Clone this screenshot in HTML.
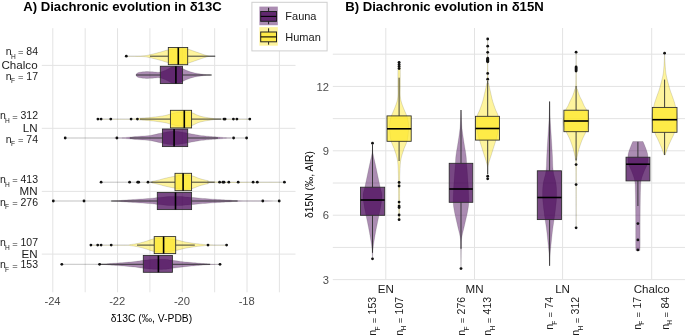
<!DOCTYPE html><html><head><meta charset="utf-8"><style>
html,body{margin:0;padding:0;background:#fff;width:685px;height:335px;overflow:hidden}
svg{display:block;font-family:"Liberation Sans",sans-serif;filter:blur(0.3px)}
.g{stroke:#e3e3e3;stroke-width:1}
.wh{stroke:#2b2b2b;stroke-width:0.9}
.bx{stroke:#2a2a2a;stroke-width:0.85}
.md{stroke:#000;stroke-width:1.6}
.pt{fill:#111}
.tk{fill:#4d4d4d;font-size:11.2px}
.lb{fill:#1a1a1a;font-size:11.6px}
.ttl{fill:#000;font-size:13.15px;font-weight:bold}
.at{fill:#000;font-size:10.3px}
.nl text{fill:#1a1a1a;font-size:10.5px}
</style></head><body>
<svg width="685" height="335" viewBox="0 0 685 335">
<rect width="685" height="335" fill="#fff"/>
<line class="g" x1="52.80" y1="28.20" x2="52.80" y2="292.30"/>
<line class="g" x1="85.17" y1="28.20" x2="85.17" y2="292.30"/>
<line class="g" x1="117.54" y1="28.20" x2="117.54" y2="292.30"/>
<line class="g" x1="149.91" y1="28.20" x2="149.91" y2="292.30"/>
<line class="g" x1="182.28" y1="28.20" x2="182.28" y2="292.30"/>
<line class="g" x1="214.65" y1="28.20" x2="214.65" y2="292.30"/>
<line class="g" x1="247.02" y1="28.20" x2="247.02" y2="292.30"/>
<line class="g" x1="279.39" y1="28.20" x2="279.39" y2="292.30"/>
<line class="g" x1="41.80" y1="65.40" x2="295.50" y2="65.40"/>
<line class="g" x1="41.80" y1="128.30" x2="295.50" y2="128.30"/>
<line class="g" x1="41.80" y1="191.40" x2="295.50" y2="191.40"/>
<line class="g" x1="41.80" y1="254.10" x2="295.50" y2="254.10"/>
<line class="g" x1="385.80" y1="28.00" x2="385.80" y2="279.40"/>
<line class="g" x1="474.50" y1="28.00" x2="474.50" y2="279.40"/>
<line class="g" x1="562.60" y1="28.00" x2="562.60" y2="279.40"/>
<line class="g" x1="651.70" y1="28.00" x2="651.70" y2="279.40"/>
<line class="g" x1="332.80" y1="54.20" x2="685.00" y2="54.20"/>
<line class="g" x1="332.80" y1="86.41" x2="685.00" y2="86.41"/>
<line class="g" x1="332.80" y1="118.61" x2="685.00" y2="118.61"/>
<line class="g" x1="332.80" y1="150.81" x2="685.00" y2="150.81"/>
<line class="g" x1="332.80" y1="183.02" x2="685.00" y2="183.02"/>
<line class="g" x1="332.80" y1="215.22" x2="685.00" y2="215.22"/>
<line class="g" x1="332.80" y1="247.43" x2="685.00" y2="247.43"/>
<line class="g" x1="332.80" y1="279.63" x2="685.00" y2="279.63"/>
<path d="M126.30,56.15 L128.23,56.12 L130.99,56.09 L134.21,56.04 L137.53,55.99 L140.58,55.91 L143.00,55.80 L144.69,55.68 L145.94,55.54 L146.92,55.38 L147.80,55.20 L148.77,54.97 L150.00,54.70 L151.52,54.36 L153.19,53.96 L154.94,53.53 L156.70,53.07 L158.41,52.62 L160.00,52.20 L161.45,51.79 L162.81,51.38 L164.12,50.98 L165.41,50.59 L166.69,50.22 L168.00,49.90 L169.36,49.61 L170.74,49.34 L172.12,49.11 L173.48,48.90 L174.78,48.73 L176.00,48.60 L177.12,48.52 L178.16,48.49 L179.14,48.49 L180.10,48.51 L181.04,48.56 L182.00,48.60 L182.91,48.62 L183.75,48.62 L184.58,48.63 L185.47,48.69 L186.49,48.84 L187.70,49.10 L189.15,49.51 L190.80,50.06 L192.58,50.68 L194.42,51.34 L196.25,52.00 L198.00,52.60 L199.72,53.18 L201.46,53.79 L203.19,54.40 L204.89,54.96 L206.50,55.44 L208.00,55.80 L209.45,56.03 L210.87,56.14 L212.22,56.18 L213.44,56.16 L214.45,56.14 L215.20,56.15 L215.20,56.25 L214.45,56.26 L213.44,56.24 L212.22,56.23 L210.87,56.26 L209.45,56.37 L208.00,56.60 L206.50,56.96 L204.89,57.44 L203.19,58.00 L201.46,58.61 L199.72,59.22 L198.00,59.80 L196.25,60.40 L194.42,61.06 L192.58,61.72 L190.80,62.34 L189.15,62.89 L187.70,63.30 L186.49,63.56 L185.47,63.71 L184.58,63.77 L183.75,63.78 L182.91,63.78 L182.00,63.80 L181.04,63.84 L180.10,63.89 L179.14,63.91 L178.16,63.91 L177.12,63.88 L176.00,63.80 L174.78,63.67 L173.48,63.50 L172.12,63.29 L170.74,63.06 L169.36,62.79 L168.00,62.50 L166.69,62.18 L165.41,61.81 L164.12,61.43 L162.81,61.02 L161.45,60.61 L160.00,60.20 L158.41,59.78 L156.70,59.33 L154.94,58.88 L153.19,58.44 L151.52,58.04 L150.00,57.70 L148.77,57.43 L147.80,57.20 L146.92,57.02 L145.94,56.86 L144.69,56.72 L143.00,56.60 L140.58,56.49 L137.53,56.41 L134.21,56.36 L130.99,56.31 L128.23,56.28 L126.30,56.25 Z" fill="rgba(253,231,37,0.450)" stroke="rgba(0,0,0,0.16)" stroke-width="0.8"/>
<line x1="150.00" y1="56.20" x2="168.30" y2="56.20" class="wh"/>
<line x1="187.70" y1="56.20" x2="215.20" y2="56.20" class="wh"/>
<rect x="168.30" y="47.50" width="19.40" height="17.20" fill="rgba(253,231,37,0.720)" class="bx"/>
<line x1="178.30" y1="47.50" x2="178.30" y2="64.70" class="md"/>
<circle cx="126.30" cy="56.20" r="1.4" class="pt"/>
<path d="M136.00,74.40 L136.14,74.24 L136.31,74.02 L136.53,73.76 L136.80,73.49 L137.12,73.23 L137.50,73.00 L137.94,72.80 L138.43,72.61 L138.97,72.44 L139.57,72.27 L140.25,72.13 L141.00,72.00 L141.84,71.89 L142.78,71.80 L143.78,71.72 L144.83,71.66 L145.91,71.62 L147.00,71.60 L148.12,71.61 L149.30,71.65 L150.50,71.71 L151.70,71.78 L152.88,71.85 L154.00,71.90 L155.06,71.97 L156.07,72.06 L157.06,72.15 L158.04,72.21 L159.01,72.20 L160.00,72.10 L161.00,71.89 L162.00,71.60 L163.00,71.25 L164.00,70.85 L165.00,70.43 L166.00,70.00 L167.00,69.52 L168.00,68.97 L169.00,68.39 L170.00,67.84 L171.00,67.36 L172.00,67.00 L173.02,66.76 L174.06,66.59 L175.10,66.50 L176.12,66.47 L177.09,66.51 L178.00,66.60 L178.81,66.76 L179.54,67.01 L180.23,67.31 L180.90,67.66 L181.62,68.03 L182.40,68.40 L183.26,68.80 L184.16,69.24 L185.10,69.70 L186.06,70.16 L187.03,70.60 L188.00,71.00 L189.00,71.36 L190.04,71.70 L191.10,72.02 L192.13,72.31 L193.11,72.57 L194.00,72.80 L194.76,72.98 L195.41,73.11 L196.00,73.21 L196.59,73.29 L197.24,73.38 L198.00,73.50 L198.87,73.64 L199.79,73.80 L200.78,73.96 L201.81,74.12 L202.88,74.27 L204.00,74.40 L205.26,74.52 L206.70,74.63 L208.18,74.73 L209.57,74.82 L210.75,74.89 L211.60,74.95 L211.60,75.05 L210.75,75.11 L209.57,75.18 L208.18,75.27 L206.70,75.37 L205.26,75.48 L204.00,75.60 L202.88,75.73 L201.81,75.88 L200.78,76.04 L199.79,76.20 L198.87,76.36 L198.00,76.50 L197.24,76.62 L196.59,76.71 L196.00,76.79 L195.41,76.89 L194.76,77.02 L194.00,77.20 L193.11,77.43 L192.13,77.69 L191.10,77.98 L190.04,78.30 L189.00,78.64 L188.00,79.00 L187.03,79.40 L186.06,79.84 L185.10,80.30 L184.16,80.76 L183.26,81.20 L182.40,81.60 L181.62,81.97 L180.90,82.34 L180.23,82.69 L179.54,82.99 L178.81,83.24 L178.00,83.40 L177.09,83.49 L176.12,83.53 L175.10,83.50 L174.06,83.41 L173.02,83.24 L172.00,83.00 L171.00,82.64 L170.00,82.16 L169.00,81.61 L168.00,81.03 L167.00,80.48 L166.00,80.00 L165.00,79.57 L164.00,79.15 L163.00,78.75 L162.00,78.40 L161.00,78.11 L160.00,77.90 L159.01,77.80 L158.04,77.79 L157.06,77.85 L156.07,77.94 L155.06,78.03 L154.00,78.10 L152.88,78.15 L151.70,78.22 L150.50,78.29 L149.30,78.35 L148.12,78.39 L147.00,78.40 L145.91,78.38 L144.83,78.34 L143.78,78.28 L142.78,78.20 L141.84,78.11 L141.00,78.00 L140.25,77.87 L139.57,77.73 L138.97,77.56 L138.43,77.39 L137.94,77.20 L137.50,77.00 L137.12,76.77 L136.80,76.51 L136.53,76.24 L136.31,75.98 L136.14,75.76 L136.00,75.60 Z" fill="rgba(68,1,84,0.450)" stroke="rgba(0,0,0,0.16)" stroke-width="0.8"/>
<line x1="136.00" y1="75.00" x2="160.30" y2="75.00" class="wh"/>
<line x1="182.50" y1="75.00" x2="211.60" y2="75.00" class="wh"/>
<rect x="160.30" y="66.30" width="22.20" height="17.30" fill="rgba(68,1,84,0.720)" class="bx"/>
<line x1="175.90" y1="66.30" x2="175.90" y2="83.60" class="md"/>
<path d="M97.90,119.05 L101.68,119.04 L107.15,119.03 L113.51,119.02 L119.97,119.01 L125.73,118.98 L130.00,118.95 L132.67,118.91 L134.34,118.85 L135.32,118.79 L135.89,118.73 L136.36,118.66 L137.00,118.60 L137.65,118.54 L138.04,118.48 L138.31,118.42 L138.63,118.36 L139.14,118.28 L140.00,118.20 L141.26,118.11 L142.81,118.01 L144.56,117.90 L146.41,117.78 L148.25,117.65 L150.00,117.50 L151.72,117.32 L153.52,117.12 L155.31,116.91 L157.04,116.69 L158.62,116.48 L160.00,116.30 L161.12,116.15 L162.02,116.03 L162.79,115.91 L163.49,115.80 L164.20,115.66 L165.00,115.50 L165.85,115.31 L166.69,115.09 L167.54,114.86 L168.42,114.62 L169.37,114.36 L170.40,114.10 L171.55,113.80 L172.79,113.47 L174.10,113.12 L175.43,112.80 L176.74,112.51 L178.00,112.30 L179.21,112.17 L180.39,112.09 L181.56,112.06 L182.72,112.06 L183.86,112.07 L185.00,112.10 L186.10,112.11 L187.16,112.10 L188.21,112.12 L189.28,112.19 L190.40,112.33 L191.60,112.60 L192.85,113.02 L194.13,113.59 L195.46,114.24 L196.87,114.92 L198.37,115.56 L200.00,116.10 L201.83,116.56 L203.84,116.99 L205.96,117.38 L208.09,117.73 L210.13,118.04 L212.00,118.30 L213.44,118.50 L214.49,118.64 L215.45,118.73 L216.64,118.79 L218.39,118.84 L221.00,118.90 L224.99,118.95 L230.20,118.99 L235.96,119.01 L241.60,119.03 L246.44,119.04 L249.80,119.05 L249.80,119.15 L246.44,119.16 L241.60,119.17 L235.96,119.19 L230.20,119.21 L224.99,119.25 L221.00,119.30 L218.39,119.36 L216.64,119.41 L215.45,119.47 L214.49,119.56 L213.44,119.70 L212.00,119.90 L210.13,120.16 L208.09,120.47 L205.96,120.82 L203.84,121.21 L201.83,121.64 L200.00,122.10 L198.37,122.64 L196.87,123.28 L195.46,123.96 L194.13,124.61 L192.85,125.18 L191.60,125.60 L190.40,125.87 L189.28,126.01 L188.21,126.08 L187.16,126.10 L186.10,126.09 L185.00,126.10 L183.86,126.13 L182.72,126.14 L181.56,126.14 L180.39,126.11 L179.21,126.03 L178.00,125.90 L176.74,125.69 L175.43,125.40 L174.10,125.07 L172.79,124.73 L171.55,124.40 L170.40,124.10 L169.37,123.84 L168.42,123.58 L167.54,123.34 L166.69,123.11 L165.85,122.89 L165.00,122.70 L164.20,122.54 L163.49,122.40 L162.79,122.29 L162.02,122.17 L161.12,122.05 L160.00,121.90 L158.62,121.72 L157.04,121.51 L155.31,121.29 L153.52,121.08 L151.72,120.88 L150.00,120.70 L148.25,120.55 L146.41,120.42 L144.56,120.30 L142.81,120.19 L141.26,120.09 L140.00,120.00 L139.14,119.92 L138.63,119.84 L138.31,119.78 L138.04,119.72 L137.65,119.66 L137.00,119.60 L136.36,119.54 L135.89,119.47 L135.32,119.41 L134.34,119.35 L132.67,119.29 L130.00,119.25 L125.73,119.22 L119.97,119.19 L113.51,119.18 L107.15,119.17 L101.68,119.16 L97.90,119.15 Z" fill="rgba(253,231,37,0.450)" stroke="rgba(0,0,0,0.16)" stroke-width="0.8"/>
<line x1="140.00" y1="119.10" x2="170.40" y2="119.10" class="wh"/>
<line x1="191.60" y1="119.10" x2="221.20" y2="119.10" class="wh"/>
<rect x="170.40" y="110.30" width="21.20" height="17.60" fill="rgba(253,231,37,0.720)" class="bx"/>
<line x1="184.30" y1="110.30" x2="184.30" y2="127.90" class="md"/>
<circle cx="97.90" cy="119.10" r="1.4" class="pt"/>
<circle cx="101.10" cy="119.10" r="1.4" class="pt"/>
<circle cx="110.80" cy="119.10" r="1.4" class="pt"/>
<circle cx="131.10" cy="119.10" r="1.4" class="pt"/>
<circle cx="137.40" cy="119.10" r="1.4" class="pt"/>
<circle cx="224.00" cy="119.10" r="1.4" class="pt"/>
<circle cx="225.10" cy="119.10" r="1.4" class="pt"/>
<circle cx="233.40" cy="119.10" r="1.4" class="pt"/>
<circle cx="236.90" cy="119.10" r="1.4" class="pt"/>
<circle cx="249.80" cy="119.10" r="1.4" class="pt"/>
<path d="M65.20,137.95 L70.48,137.95 L78.10,137.94 L86.98,137.94 L95.99,137.93 L104.03,137.92 L110.00,137.90 L113.72,137.88 L116.02,137.85 L117.36,137.82 L118.18,137.79 L118.91,137.75 L120.00,137.70 L121.33,137.65 L122.52,137.59 L123.62,137.53 L124.70,137.46 L125.81,137.39 L127.00,137.30 L128.19,137.21 L129.33,137.11 L130.50,137.00 L131.78,136.88 L133.25,136.75 L135.00,136.60 L137.12,136.45 L139.58,136.29 L142.22,136.12 L144.93,135.92 L147.57,135.69 L150.00,135.40 L152.27,135.03 L154.50,134.59 L156.66,134.11 L158.72,133.62 L160.64,133.17 L162.40,132.80 L163.94,132.49 L165.27,132.22 L166.48,131.99 L167.61,131.79 L168.77,131.63 L170.00,131.50 L171.29,131.41 L172.57,131.34 L173.87,131.31 L175.19,131.33 L176.56,131.39 L178.00,131.50 L179.49,131.68 L181.01,131.92 L182.58,132.21 L184.21,132.53 L185.91,132.87 L187.70,133.20 L189.63,133.55 L191.69,133.94 L193.83,134.34 L195.97,134.74 L198.05,135.10 L200.00,135.40 L201.82,135.64 L203.58,135.84 L205.27,136.00 L206.90,136.14 L208.48,136.27 L210.00,136.40 L211.45,136.52 L212.81,136.63 L214.12,136.72 L215.41,136.81 L216.69,136.90 L218.00,137.00 L219.36,137.10 L220.74,137.21 L222.12,137.32 L223.48,137.42 L224.78,137.52 L226.00,137.60 L227.02,137.67 L227.83,137.73 L228.59,137.78 L229.44,137.83 L230.53,137.87 L232.00,137.90 L234.10,137.92 L236.77,137.94 L239.68,137.94 L242.50,137.95 L244.91,137.95 L246.60,137.95 L246.60,138.05 L244.91,138.05 L242.50,138.05 L239.68,138.06 L236.77,138.06 L234.10,138.08 L232.00,138.10 L230.53,138.13 L229.44,138.17 L228.59,138.22 L227.83,138.27 L227.02,138.33 L226.00,138.40 L224.78,138.48 L223.48,138.58 L222.12,138.68 L220.74,138.79 L219.36,138.90 L218.00,139.00 L216.69,139.10 L215.41,139.19 L214.12,139.28 L212.81,139.37 L211.45,139.48 L210.00,139.60 L208.48,139.73 L206.90,139.86 L205.27,140.00 L203.58,140.16 L201.82,140.36 L200.00,140.60 L198.05,140.90 L195.97,141.26 L193.83,141.66 L191.69,142.06 L189.63,142.45 L187.70,142.80 L185.91,143.13 L184.21,143.47 L182.58,143.79 L181.01,144.08 L179.49,144.32 L178.00,144.50 L176.56,144.61 L175.19,144.67 L173.87,144.69 L172.57,144.66 L171.29,144.59 L170.00,144.50 L168.77,144.37 L167.61,144.21 L166.48,144.01 L165.27,143.78 L163.94,143.51 L162.40,143.20 L160.64,142.83 L158.72,142.38 L156.66,141.89 L154.50,141.41 L152.27,140.97 L150.00,140.60 L147.57,140.31 L144.93,140.08 L142.22,139.88 L139.58,139.71 L137.12,139.55 L135.00,139.40 L133.25,139.25 L131.78,139.12 L130.50,139.00 L129.33,138.89 L128.19,138.79 L127.00,138.70 L125.81,138.61 L124.70,138.54 L123.62,138.47 L122.52,138.41 L121.33,138.35 L120.00,138.30 L118.91,138.25 L118.18,138.21 L117.36,138.18 L116.02,138.15 L113.72,138.12 L110.00,138.10 L104.03,138.08 L95.99,138.07 L86.98,138.06 L78.10,138.06 L70.48,138.05 L65.20,138.05 Z" fill="rgba(68,1,84,0.450)" stroke="rgba(0,0,0,0.16)" stroke-width="0.8"/>
<line x1="130.00" y1="138.00" x2="162.40" y2="138.00" class="wh"/>
<line x1="187.70" y1="138.00" x2="217.90" y2="138.00" class="wh"/>
<rect x="162.40" y="129.00" width="25.30" height="17.60" fill="rgba(68,1,84,0.720)" class="bx"/>
<line x1="174.10" y1="129.00" x2="174.10" y2="146.60" class="md"/>
<circle cx="65.20" cy="138.00" r="1.4" class="pt"/>
<circle cx="116.90" cy="138.00" r="1.4" class="pt"/>
<circle cx="233.60" cy="138.00" r="1.4" class="pt"/>
<circle cx="246.60" cy="138.00" r="1.4" class="pt"/>
<path d="M101.10,182.15 L106.70,182.15 L114.85,182.16 L124.30,182.17 L133.81,182.17 L142.12,182.15 L148.00,182.10 L151.13,182.03 L152.44,181.93 L152.56,181.82 L152.11,181.69 L151.71,181.55 L152.00,181.40 L152.87,181.24 L153.81,181.06 L154.81,180.88 L155.85,180.67 L156.92,180.45 L158.00,180.20 L159.07,179.93 L160.15,179.63 L161.25,179.31 L162.41,178.97 L163.65,178.64 L165.00,178.30 L166.52,177.95 L168.19,177.59 L169.94,177.21 L171.70,176.85 L173.41,176.51 L175.00,176.20 L176.44,175.91 L177.79,175.63 L179.09,175.37 L180.36,175.15 L181.66,174.99 L183.00,174.90 L184.40,174.89 L185.83,174.93 L187.27,175.03 L188.73,175.19 L190.17,175.42 L191.60,175.70 L193.02,176.08 L194.43,176.57 L195.84,177.12 L197.24,177.69 L198.63,178.23 L200.00,178.70 L201.37,179.10 L202.74,179.47 L204.11,179.82 L205.44,180.14 L206.75,180.43 L208.00,180.70 L208.46,180.94 L208.00,181.16 L207.49,181.35 L207.85,181.52 L209.95,181.67 L214.70,181.80 L223.48,181.91 L235.85,181.99 L249.97,182.04 L264.00,182.09 L276.09,182.12 L284.40,182.15 L284.40,182.25 L276.09,182.28 L264.00,182.31 L249.97,182.36 L235.85,182.41 L223.48,182.49 L214.70,182.60 L209.95,182.73 L207.85,182.88 L207.49,183.05 L208.00,183.24 L208.46,183.46 L208.00,183.70 L206.75,183.97 L205.44,184.26 L204.11,184.58 L202.74,184.93 L201.37,185.30 L200.00,185.70 L198.63,186.17 L197.24,186.71 L195.84,187.27 L194.43,187.83 L193.02,188.32 L191.60,188.70 L190.17,188.98 L188.73,189.21 L187.27,189.37 L185.83,189.47 L184.40,189.51 L183.00,189.50 L181.66,189.41 L180.36,189.25 L179.09,189.03 L177.79,188.77 L176.44,188.49 L175.00,188.20 L173.41,187.89 L171.70,187.55 L169.94,187.19 L168.19,186.81 L166.52,186.45 L165.00,186.10 L163.65,185.76 L162.41,185.43 L161.25,185.09 L160.15,184.77 L159.07,184.47 L158.00,184.20 L156.92,183.95 L155.85,183.73 L154.81,183.52 L153.81,183.34 L152.87,183.16 L152.00,183.00 L151.71,182.85 L152.11,182.71 L152.56,182.58 L152.44,182.47 L151.13,182.37 L148.00,182.30 L142.12,182.25 L133.81,182.23 L124.30,182.23 L114.85,182.24 L106.70,182.25 L101.10,182.25 Z" fill="rgba(253,231,37,0.450)" stroke="rgba(0,0,0,0.16)" stroke-width="0.8"/>
<line x1="150.40" y1="182.20" x2="175.00" y2="182.20" class="wh"/>
<line x1="191.60" y1="182.20" x2="214.70" y2="182.20" class="wh"/>
<rect x="175.00" y="173.30" width="16.60" height="17.40" fill="rgba(253,231,37,0.720)" class="bx"/>
<line x1="183.10" y1="173.30" x2="183.10" y2="190.70" class="md"/>
<circle cx="101.10" cy="182.20" r="1.4" class="pt"/>
<circle cx="129.60" cy="182.20" r="1.4" class="pt"/>
<circle cx="137.70" cy="182.20" r="1.4" class="pt"/>
<circle cx="138.70" cy="182.20" r="1.4" class="pt"/>
<circle cx="148.00" cy="182.20" r="1.4" class="pt"/>
<circle cx="219.60" cy="182.20" r="1.4" class="pt"/>
<circle cx="222.90" cy="182.20" r="1.4" class="pt"/>
<circle cx="224.00" cy="182.20" r="1.4" class="pt"/>
<circle cx="228.80" cy="182.20" r="1.4" class="pt"/>
<circle cx="238.20" cy="182.20" r="1.4" class="pt"/>
<circle cx="253.10" cy="182.20" r="1.4" class="pt"/>
<circle cx="257.30" cy="182.20" r="1.4" class="pt"/>
<circle cx="284.40" cy="182.20" r="1.4" class="pt"/>
<path d="M53.30,200.95 L60.11,200.95 L69.95,200.96 L81.40,200.97 L93.01,200.97 L103.36,200.95 L111.00,200.90 L115.64,200.82 L118.39,200.72 L119.86,200.60 L120.69,200.46 L121.53,200.33 L123.00,200.20 L124.97,200.07 L126.89,199.95 L128.81,199.82 L130.78,199.69 L132.83,199.55 L135.00,199.40 L137.42,199.24 L140.06,199.07 L142.79,198.90 L145.46,198.73 L147.91,198.56 L150.00,198.40 L151.60,198.26 L152.80,198.13 L153.79,198.01 L154.75,197.88 L155.86,197.75 L157.30,197.60 L159.14,197.42 L161.23,197.21 L163.48,197.00 L165.77,196.80 L167.98,196.62 L170.00,196.50 L171.80,196.43 L173.47,196.39 L175.07,196.38 L176.65,196.39 L178.27,196.44 L180.00,196.50 L181.82,196.59 L183.68,196.72 L185.59,196.88 L187.54,197.04 L189.54,197.22 L191.60,197.40 L193.71,197.58 L195.87,197.79 L198.09,197.99 L200.35,198.20 L202.65,198.41 L205.00,198.60 L207.47,198.78 L210.07,198.97 L212.71,199.14 L215.31,199.31 L217.77,199.46 L220.00,199.60 L221.98,199.71 L223.79,199.80 L225.46,199.88 L227.03,199.95 L228.53,200.02 L230.00,200.10 L231.01,200.19 L231.45,200.27 L231.83,200.36 L232.64,200.44 L234.39,200.53 L237.60,200.60 L243.05,200.67 L250.49,200.74 L258.87,200.81 L267.16,200.86 L274.28,200.91 L279.20,200.95 L279.20,201.05 L274.28,201.09 L267.16,201.14 L258.87,201.19 L250.49,201.26 L243.05,201.33 L237.60,201.40 L234.39,201.47 L232.64,201.56 L231.83,201.64 L231.45,201.73 L231.01,201.81 L230.00,201.90 L228.53,201.98 L227.03,202.05 L225.46,202.12 L223.79,202.20 L221.98,202.29 L220.00,202.40 L217.77,202.54 L215.31,202.69 L212.71,202.86 L210.07,203.03 L207.47,203.22 L205.00,203.40 L202.65,203.59 L200.35,203.80 L198.09,204.01 L195.87,204.21 L193.71,204.42 L191.60,204.60 L189.54,204.78 L187.54,204.96 L185.59,205.12 L183.68,205.28 L181.82,205.41 L180.00,205.50 L178.27,205.56 L176.65,205.61 L175.07,205.62 L173.47,205.61 L171.80,205.57 L170.00,205.50 L167.98,205.38 L165.77,205.20 L163.48,205.00 L161.23,204.79 L159.14,204.58 L157.30,204.40 L155.86,204.25 L154.75,204.12 L153.79,203.99 L152.80,203.87 L151.60,203.74 L150.00,203.60 L147.91,203.44 L145.46,203.27 L142.79,203.10 L140.06,202.93 L137.42,202.76 L135.00,202.60 L132.83,202.45 L130.78,202.31 L128.81,202.18 L126.89,202.05 L124.97,201.93 L123.00,201.80 L121.53,201.67 L120.69,201.54 L119.86,201.40 L118.39,201.28 L115.64,201.18 L111.00,201.10 L103.36,201.05 L93.01,201.03 L81.40,201.03 L69.95,201.04 L60.11,201.05 L53.30,201.05 Z" fill="rgba(68,1,84,0.450)" stroke="rgba(0,0,0,0.16)" stroke-width="0.8"/>
<line x1="111.20" y1="201.00" x2="157.30" y2="201.00" class="wh"/>
<line x1="191.60" y1="201.00" x2="237.60" y2="201.00" class="wh"/>
<rect x="157.30" y="192.40" width="34.30" height="17.20" fill="rgba(68,1,84,0.720)" class="bx"/>
<line x1="175.50" y1="192.40" x2="175.50" y2="209.60" class="md"/>
<circle cx="53.30" cy="201.00" r="1.4" class="pt"/>
<circle cx="84.00" cy="201.00" r="1.4" class="pt"/>
<circle cx="262.80" cy="201.00" r="1.4" class="pt"/>
<circle cx="279.20" cy="201.00" r="1.4" class="pt"/>
<path d="M90.90,245.05 L94.94,245.05 L100.80,245.05 L107.61,245.06 L114.50,245.05 L120.58,245.03 L125.00,245.00 L127.55,244.95 L128.88,244.88 L129.42,244.80 L129.57,244.71 L129.76,244.61 L130.40,244.50 L131.41,244.39 L132.46,244.27 L133.54,244.14 L134.65,244.00 L135.81,243.82 L137.00,243.60 L138.24,243.34 L139.52,243.05 L140.84,242.72 L142.19,242.37 L143.58,242.00 L145.00,241.60 L146.47,241.14 L147.99,240.61 L149.55,240.06 L151.12,239.53 L152.68,239.06 L154.20,238.70 L155.64,238.44 L157.02,238.25 L158.38,238.12 L159.79,238.05 L161.31,238.05 L163.00,238.10 L164.93,238.23 L167.07,238.45 L169.32,238.72 L171.57,239.04 L173.73,239.37 L175.70,239.70 L177.44,240.04 L179.03,240.41 L180.52,240.80 L181.97,241.19 L183.45,241.56 L185.00,241.90 L186.64,242.21 L188.34,242.50 L190.06,242.78 L191.76,243.04 L193.42,243.28 L195.00,243.50 L196.54,243.70 L198.06,243.87 L199.54,244.03 L200.94,244.16 L202.24,244.29 L203.40,244.40 L204.22,244.50 L204.70,244.58 L205.06,244.64 L205.57,244.70 L206.47,244.75 L208.00,244.80 L210.51,244.85 L213.85,244.90 L217.59,244.95 L221.26,244.99 L224.41,245.02 L226.60,245.05 L226.60,245.15 L224.41,245.18 L221.26,245.21 L217.59,245.25 L213.85,245.30 L210.51,245.35 L208.00,245.40 L206.47,245.45 L205.57,245.50 L205.06,245.56 L204.70,245.62 L204.22,245.70 L203.40,245.80 L202.24,245.91 L200.94,246.04 L199.54,246.17 L198.06,246.33 L196.54,246.50 L195.00,246.70 L193.42,246.92 L191.76,247.16 L190.06,247.42 L188.34,247.70 L186.64,247.99 L185.00,248.30 L183.45,248.64 L181.97,249.01 L180.52,249.40 L179.03,249.79 L177.44,250.16 L175.70,250.50 L173.73,250.83 L171.57,251.16 L169.32,251.47 L167.07,251.75 L164.93,251.97 L163.00,252.10 L161.31,252.15 L159.79,252.15 L158.38,252.08 L157.02,251.95 L155.64,251.76 L154.20,251.50 L152.68,251.14 L151.12,250.67 L149.55,250.14 L147.99,249.59 L146.47,249.06 L145.00,248.60 L143.58,248.20 L142.19,247.83 L140.84,247.47 L139.52,247.15 L138.24,246.86 L137.00,246.60 L135.81,246.38 L134.65,246.20 L133.54,246.06 L132.46,245.93 L131.41,245.81 L130.40,245.70 L129.76,245.59 L129.57,245.49 L129.42,245.40 L128.88,245.32 L127.55,245.25 L125.00,245.20 L120.58,245.17 L114.50,245.15 L107.61,245.14 L100.80,245.15 L94.94,245.15 L90.90,245.15 Z" fill="rgba(253,231,37,0.450)" stroke="rgba(0,0,0,0.16)" stroke-width="0.8"/>
<line x1="137.00" y1="245.10" x2="154.20" y2="245.10" class="wh"/>
<line x1="175.70" y1="245.10" x2="194.80" y2="245.10" class="wh"/>
<rect x="154.20" y="236.60" width="21.50" height="17.00" fill="rgba(253,231,37,0.720)" class="bx"/>
<line x1="163.60" y1="236.60" x2="163.60" y2="253.60" class="md"/>
<circle cx="90.90" cy="245.10" r="1.4" class="pt"/>
<circle cx="97.70" cy="245.10" r="1.4" class="pt"/>
<circle cx="101.10" cy="245.10" r="1.4" class="pt"/>
<circle cx="111.20" cy="245.10" r="1.4" class="pt"/>
<circle cx="208.00" cy="245.10" r="1.4" class="pt"/>
<circle cx="226.60" cy="245.10" r="1.4" class="pt"/>
<path d="M61.80,264.25 L66.28,264.25 L72.75,264.26 L80.27,264.27 L87.94,264.27 L94.82,264.25 L100.00,264.20 L103.28,264.12 L105.35,264.02 L106.64,263.90 L107.56,263.76 L108.54,263.63 L110.00,263.50 L111.87,263.38 L113.81,263.26 L115.81,263.13 L117.85,263.00 L119.92,262.86 L122.00,262.70 L124.16,262.52 L126.43,262.33 L128.73,262.12 L130.98,261.91 L133.09,261.70 L135.00,261.50 L136.62,261.30 L137.99,261.09 L139.23,260.89 L140.46,260.69 L141.77,260.49 L143.30,260.30 L145.07,260.11 L147.01,259.91 L149.04,259.73 L151.10,259.55 L153.11,259.41 L155.00,259.30 L156.80,259.23 L158.56,259.19 L160.27,259.18 L161.92,259.19 L163.50,259.23 L165.00,259.30 L166.32,259.40 L167.47,259.54 L168.54,259.70 L169.64,259.89 L170.90,260.09 L172.40,260.30 L174.21,260.54 L176.24,260.81 L178.41,261.09 L180.65,261.38 L182.87,261.66 L185.00,261.90 L187.08,262.12 L189.19,262.32 L191.29,262.51 L193.32,262.68 L195.24,262.85 L197.00,263.00 L198.60,263.14 L200.07,263.28 L201.42,263.40 L202.69,263.51 L203.88,263.61 L205.00,263.70 L205.98,263.77 L206.77,263.83 L207.49,263.88 L208.23,263.92 L209.10,263.96 L210.20,264.00 L211.68,264.05 L213.49,264.10 L215.42,264.14 L217.29,264.19 L218.88,264.22 L220.00,264.25 L220.00,264.35 L218.88,264.38 L217.29,264.41 L215.42,264.46 L213.49,264.50 L211.68,264.55 L210.20,264.60 L209.10,264.64 L208.23,264.68 L207.49,264.72 L206.77,264.77 L205.98,264.83 L205.00,264.90 L203.88,264.99 L202.69,265.09 L201.42,265.20 L200.07,265.32 L198.60,265.46 L197.00,265.60 L195.24,265.75 L193.32,265.92 L191.29,266.09 L189.19,266.28 L187.08,266.48 L185.00,266.70 L182.87,266.94 L180.65,267.22 L178.41,267.51 L176.24,267.79 L174.21,268.06 L172.40,268.30 L170.90,268.51 L169.64,268.71 L168.54,268.90 L167.47,269.06 L166.32,269.20 L165.00,269.30 L163.50,269.37 L161.92,269.41 L160.27,269.43 L158.56,269.41 L156.80,269.37 L155.00,269.30 L153.11,269.19 L151.10,269.05 L149.04,268.88 L147.01,268.69 L145.07,268.49 L143.30,268.30 L141.77,268.11 L140.46,267.91 L139.23,267.71 L137.99,267.51 L136.62,267.30 L135.00,267.10 L133.09,266.90 L130.98,266.69 L128.73,266.48 L126.43,266.27 L124.16,266.08 L122.00,265.90 L119.92,265.74 L117.85,265.60 L115.81,265.47 L113.81,265.34 L111.87,265.22 L110.00,265.10 L108.54,264.97 L107.56,264.84 L106.64,264.70 L105.35,264.58 L103.28,264.48 L100.00,264.40 L94.82,264.35 L87.94,264.33 L80.27,264.33 L72.75,264.34 L66.28,264.35 L61.80,264.35 Z" fill="rgba(68,1,84,0.450)" stroke="rgba(0,0,0,0.16)" stroke-width="0.8"/>
<line x1="99.60" y1="264.30" x2="143.30" y2="264.30" class="wh"/>
<line x1="172.40" y1="264.30" x2="210.20" y2="264.30" class="wh"/>
<rect x="143.30" y="255.50" width="29.10" height="16.80" fill="rgba(68,1,84,0.720)" class="bx"/>
<line x1="158.40" y1="255.50" x2="158.40" y2="272.30" class="md"/>
<circle cx="61.80" cy="264.30" r="1.4" class="pt"/>
<circle cx="99.60" cy="264.30" r="1.4" class="pt"/>
<circle cx="220.00" cy="264.30" r="1.4" class="pt"/>
<path d="M372.45,143.20 L372.44,144.17 L372.44,145.49 L372.44,147.07 L372.40,148.82 L372.29,150.66 L372.10,152.50 L371.82,154.29 L371.48,156.07 L371.07,157.94 L370.61,160.00 L370.08,162.32 L369.50,165.00 L368.80,168.31 L367.98,172.21 L367.10,176.39 L366.23,180.51 L365.44,184.22 L364.80,187.20 L364.30,189.31 L363.88,190.79 L363.54,191.86 L363.29,192.77 L363.10,193.74 L363.00,195.00 L362.99,196.54 L363.09,198.16 L363.26,199.84 L363.49,201.56 L363.74,203.29 L364.00,205.00 L364.26,206.65 L364.56,208.25 L364.88,209.86 L365.22,211.53 L365.60,213.33 L366.00,215.30 L366.45,217.49 L366.94,219.86 L367.47,222.36 L368.00,224.91 L368.52,227.48 L369.00,230.00 L369.47,232.58 L369.94,235.27 L370.40,237.98 L370.83,240.58 L371.20,242.96 L371.50,245.00 L371.71,246.63 L371.85,247.93 L371.93,249.01 L371.99,249.98 L372.04,250.94 L372.10,252.00 L372.18,253.22 L372.25,254.53 L372.31,255.84 L372.37,257.04 L372.41,258.06 L372.45,258.80 L372.55,258.80 L372.59,258.06 L372.63,257.04 L372.69,255.84 L372.75,254.53 L372.82,253.22 L372.90,252.00 L372.96,250.94 L373.01,249.98 L373.07,249.01 L373.15,247.93 L373.29,246.63 L373.50,245.00 L373.80,242.96 L374.17,240.58 L374.60,237.98 L375.06,235.27 L375.53,232.58 L376.00,230.00 L376.48,227.48 L377.00,224.91 L377.53,222.36 L378.06,219.86 L378.55,217.49 L379.00,215.30 L379.40,213.33 L379.78,211.53 L380.12,209.86 L380.44,208.25 L380.74,206.65 L381.00,205.00 L381.26,203.29 L381.51,201.56 L381.74,199.84 L381.91,198.16 L382.01,196.54 L382.00,195.00 L381.90,193.74 L381.71,192.77 L381.46,191.86 L381.12,190.79 L380.70,189.31 L380.20,187.20 L379.56,184.22 L378.77,180.51 L377.90,176.39 L377.02,172.21 L376.20,168.31 L375.50,165.00 L374.92,162.32 L374.39,160.00 L373.93,157.94 L373.52,156.07 L373.18,154.29 L372.90,152.50 L372.71,150.66 L372.60,148.82 L372.56,147.07 L372.56,145.49 L372.56,144.17 L372.55,143.20 Z" fill="rgba(68,1,84,0.450)" stroke="rgba(0,0,0,0.16)" stroke-width="0.8"/>
<line x1="372.50" y1="144.50" x2="372.50" y2="187.20" class="wh"/>
<line x1="372.50" y1="215.30" x2="372.50" y2="252.80" class="wh"/>
<rect x="360.50" y="187.20" width="24.20" height="28.10" fill="rgba(68,1,84,0.720)" class="bx"/>
<line x1="360.50" y1="200.00" x2="384.70" y2="200.00" class="md"/>
<circle cx="372.50" cy="143.20" r="1.4" class="pt"/>
<circle cx="372.50" cy="258.80" r="1.4" class="pt"/>
<path d="M398.80,62.40 L398.70,62.88 L398.57,63.43 L398.41,64.14 L398.24,65.08 L398.10,66.34 L398.00,68.00 L397.94,70.22 L397.92,72.97 L397.91,76.04 L397.91,79.21 L397.91,82.27 L397.90,85.00 L397.90,87.44 L397.93,89.78 L397.96,92.00 L397.95,94.11 L397.87,96.11 L397.70,98.00 L397.42,99.73 L397.06,101.29 L396.62,102.74 L396.14,104.13 L395.63,105.53 L395.10,107.00 L394.51,108.54 L393.84,110.10 L393.14,111.68 L392.46,113.23 L391.83,114.75 L391.30,116.20 L390.87,117.58 L390.51,118.90 L390.20,120.18 L389.95,121.44 L389.75,122.70 L389.60,124.00 L389.51,125.31 L389.49,126.61 L389.51,127.92 L389.58,129.25 L389.68,130.61 L389.80,132.00 L389.93,133.44 L390.07,134.93 L390.24,136.44 L390.46,137.96 L390.74,139.49 L391.10,141.00 L391.56,142.48 L392.13,143.94 L392.75,145.41 L393.40,146.89 L394.03,148.41 L394.60,150.00 L395.14,151.65 L395.69,153.35 L396.22,155.09 L396.71,156.87 L397.15,158.67 L397.50,160.50 L397.76,162.38 L397.94,164.31 L398.07,166.28 L398.16,168.24 L398.23,170.16 L398.30,172.00 L398.37,173.66 L398.41,175.15 L398.44,176.59 L398.46,178.13 L398.48,179.89 L398.50,182.00 L398.52,184.52 L398.54,187.34 L398.55,190.39 L398.56,193.58 L398.58,196.81 L398.60,200.00 L398.63,203.41 L398.67,207.17 L398.71,210.97 L398.74,214.53 L398.78,217.54 L398.80,219.70 L399.40,219.70 L399.42,217.54 L399.46,214.53 L399.49,210.97 L399.53,207.17 L399.57,203.41 L399.60,200.00 L399.62,196.81 L399.64,193.58 L399.65,190.39 L399.66,187.34 L399.68,184.52 L399.70,182.00 L399.72,179.89 L399.74,178.13 L399.76,176.59 L399.79,175.15 L399.83,173.66 L399.90,172.00 L399.97,170.16 L400.04,168.24 L400.13,166.28 L400.26,164.31 L400.44,162.38 L400.70,160.50 L401.05,158.67 L401.49,156.87 L401.98,155.09 L402.51,153.35 L403.06,151.65 L403.60,150.00 L404.17,148.41 L404.80,146.89 L405.45,145.41 L406.07,143.94 L406.64,142.48 L407.10,141.00 L407.46,139.49 L407.74,137.96 L407.96,136.44 L408.13,134.93 L408.27,133.44 L408.40,132.00 L408.52,130.61 L408.62,129.25 L408.69,127.92 L408.71,126.61 L408.69,125.31 L408.60,124.00 L408.45,122.70 L408.25,121.44 L408.00,120.18 L407.69,118.90 L407.33,117.58 L406.90,116.20 L406.37,114.75 L405.74,113.23 L405.06,111.68 L404.36,110.10 L403.69,108.54 L403.10,107.00 L402.57,105.53 L402.06,104.13 L401.58,102.74 L401.14,101.29 L400.78,99.73 L400.50,98.00 L400.33,96.11 L400.25,94.11 L400.24,92.00 L400.27,89.78 L400.30,87.44 L400.30,85.00 L400.29,82.27 L400.29,79.21 L400.29,76.04 L400.28,72.97 L400.26,70.22 L400.20,68.00 L400.10,66.34 L399.96,65.08 L399.79,64.14 L399.63,63.43 L399.50,62.88 L399.40,62.40 Z" fill="rgba(253,231,37,0.450)" stroke="rgba(0,0,0,0.16)" stroke-width="0.8"/>
<line x1="399.10" y1="77.70" x2="399.10" y2="115.90" class="wh"/>
<line x1="399.10" y1="141.30" x2="399.10" y2="161.00" class="wh"/>
<rect x="387.00" y="115.90" width="24.20" height="25.40" fill="rgba(253,231,37,0.720)" class="bx"/>
<line x1="387.00" y1="128.80" x2="411.20" y2="128.80" class="md"/>
<circle cx="399.10" cy="62.30" r="1.4" class="pt"/>
<circle cx="399.10" cy="64.40" r="1.4" class="pt"/>
<circle cx="399.10" cy="66.50" r="1.4" class="pt"/>
<circle cx="399.10" cy="68.60" r="1.4" class="pt"/>
<circle cx="399.10" cy="182.40" r="1.4" class="pt"/>
<circle cx="399.10" cy="186.00" r="1.4" class="pt"/>
<circle cx="399.10" cy="202.10" r="1.4" class="pt"/>
<circle cx="399.10" cy="206.10" r="1.4" class="pt"/>
<circle cx="399.10" cy="207.50" r="1.4" class="pt"/>
<circle cx="399.10" cy="215.00" r="1.4" class="pt"/>
<circle cx="399.10" cy="219.70" r="1.4" class="pt"/>
<path d="M460.95,110.00 L460.88,111.76 L460.79,114.22 L460.69,117.12 L460.56,120.22 L460.39,123.26 L460.20,126.00 L459.97,128.44 L459.70,130.78 L459.40,133.06 L459.08,135.33 L458.75,137.63 L458.40,140.00 L458.01,142.52 L457.58,145.19 L457.12,147.88 L456.69,150.48 L456.30,152.89 L456.00,155.00 L455.80,156.68 L455.68,158.00 L455.61,159.12 L455.56,160.22 L455.50,161.46 L455.40,163.00 L455.26,164.87 L455.09,166.93 L454.92,169.12 L454.74,171.41 L454.57,173.72 L454.40,176.00 L454.24,178.30 L454.07,180.66 L453.91,183.05 L453.75,185.43 L453.61,187.76 L453.50,190.00 L453.40,192.17 L453.30,194.29 L453.21,196.36 L453.16,198.38 L453.15,200.33 L453.20,202.20 L453.31,203.94 L453.46,205.53 L453.65,207.05 L453.89,208.59 L454.17,210.21 L454.50,212.00 L454.89,213.98 L455.35,216.10 L455.85,218.30 L456.37,220.55 L456.90,222.80 L457.40,225.00 L457.91,227.19 L458.46,229.41 L459.01,231.64 L459.52,233.83 L459.96,235.96 L460.30,238.00 L460.51,239.82 L460.62,241.43 L460.67,242.97 L460.67,244.61 L460.67,246.50 L460.70,248.80 L460.75,251.81 L460.80,255.47 L460.85,259.38 L460.89,263.13 L460.92,266.34 L460.95,268.60 L461.05,268.60 L461.08,266.34 L461.11,263.13 L461.15,259.38 L461.20,255.47 L461.25,251.81 L461.30,248.80 L461.33,246.50 L461.33,244.61 L461.33,242.97 L461.38,241.43 L461.49,239.82 L461.70,238.00 L462.04,235.96 L462.48,233.83 L462.99,231.64 L463.54,229.41 L464.09,227.19 L464.60,225.00 L465.10,222.80 L465.63,220.55 L466.15,218.30 L466.65,216.10 L467.11,213.98 L467.50,212.00 L467.83,210.21 L468.11,208.59 L468.35,207.05 L468.54,205.53 L468.69,203.94 L468.80,202.20 L468.85,200.33 L468.84,198.38 L468.79,196.36 L468.70,194.29 L468.60,192.17 L468.50,190.00 L468.39,187.76 L468.25,185.43 L468.09,183.05 L467.93,180.66 L467.76,178.30 L467.60,176.00 L467.43,173.72 L467.26,171.41 L467.08,169.12 L466.91,166.93 L466.74,164.87 L466.60,163.00 L466.50,161.46 L466.44,160.22 L466.39,159.12 L466.32,158.00 L466.20,156.68 L466.00,155.00 L465.70,152.89 L465.31,150.48 L464.88,147.88 L464.42,145.19 L463.99,142.52 L463.60,140.00 L463.25,137.63 L462.92,135.33 L462.60,133.06 L462.30,130.78 L462.03,128.44 L461.80,126.00 L461.61,123.26 L461.44,120.22 L461.31,117.12 L461.21,114.22 L461.12,111.76 L461.05,110.00 Z" fill="rgba(68,1,84,0.450)" stroke="rgba(0,0,0,0.16)" stroke-width="0.8"/>
<line x1="461.00" y1="110.00" x2="461.00" y2="163.30" class="wh"/>
<line x1="461.00" y1="202.30" x2="461.00" y2="248.80" class="wh"/>
<rect x="449.20" y="163.30" width="23.60" height="39.00" fill="rgba(68,1,84,0.720)" class="bx"/>
<line x1="449.20" y1="189.00" x2="472.80" y2="189.00" class="md"/>
<circle cx="461.00" cy="268.60" r="1.4" class="pt"/>
<path d="M487.65,39.10 L487.61,43.98 L487.57,51.07 L487.51,59.30 L487.45,67.59 L487.38,74.85 L487.30,80.00 L487.23,82.76 L487.16,83.92 L487.09,84.06 L487.00,83.74 L486.87,83.53 L486.70,84.00 L486.47,85.09 L486.20,86.32 L485.90,87.67 L485.57,89.09 L485.24,90.55 L484.90,92.00 L484.57,93.48 L484.23,95.03 L483.88,96.61 L483.51,98.20 L483.12,99.77 L482.70,101.30 L482.24,102.82 L481.74,104.34 L481.22,105.86 L480.69,107.32 L480.18,108.71 L479.70,110.00 L479.23,111.12 L478.76,112.09 L478.29,112.98 L477.87,113.88 L477.50,114.86 L477.20,116.00 L476.98,117.34 L476.83,118.81 L476.73,120.38 L476.68,121.96 L476.67,123.52 L476.70,125.00 L476.77,126.40 L476.89,127.77 L477.06,129.11 L477.25,130.43 L477.47,131.72 L477.70,133.00 L477.93,134.18 L478.16,135.25 L478.41,136.30 L478.71,137.41 L479.06,138.69 L479.50,140.20 L480.04,142.01 L480.68,144.06 L481.38,146.26 L482.10,148.54 L482.82,150.81 L483.50,153.00 L484.18,155.16 L484.91,157.37 L485.63,159.57 L486.30,161.72 L486.87,163.75 L487.30,165.60 L487.56,167.28 L487.69,168.84 L487.70,170.29 L487.69,171.62 L487.65,172.86 L487.65,174.00 L487.67,175.06 L487.68,176.04 L487.67,176.93 L487.66,177.69 L487.65,178.32 L487.65,178.80 L487.75,178.80 L487.75,178.32 L487.74,177.69 L487.73,176.93 L487.72,176.04 L487.73,175.06 L487.75,174.00 L487.75,172.86 L487.71,171.62 L487.70,170.29 L487.71,168.84 L487.84,167.28 L488.10,165.60 L488.53,163.75 L489.10,161.72 L489.77,159.57 L490.49,157.37 L491.22,155.16 L491.90,153.00 L492.58,150.81 L493.30,148.54 L494.02,146.26 L494.72,144.06 L495.36,142.01 L495.90,140.20 L496.34,138.69 L496.69,137.41 L496.99,136.30 L497.24,135.25 L497.47,134.18 L497.70,133.00 L497.93,131.72 L498.15,130.43 L498.34,129.11 L498.51,127.77 L498.63,126.40 L498.70,125.00 L498.73,123.52 L498.72,121.96 L498.67,120.38 L498.57,118.81 L498.42,117.34 L498.20,116.00 L497.90,114.86 L497.53,113.88 L497.11,112.98 L496.64,112.09 L496.17,111.12 L495.70,110.00 L495.22,108.71 L494.71,107.32 L494.18,105.86 L493.66,104.34 L493.16,102.82 L492.70,101.30 L492.28,99.77 L491.89,98.20 L491.52,96.61 L491.17,95.03 L490.83,93.48 L490.50,92.00 L490.16,90.55 L489.83,89.09 L489.50,87.67 L489.20,86.32 L488.93,85.09 L488.70,84.00 L488.53,83.53 L488.40,83.74 L488.31,84.06 L488.24,83.92 L488.17,82.76 L488.10,80.00 L488.02,74.85 L487.95,67.59 L487.89,59.30 L487.83,51.07 L487.79,43.98 L487.75,39.10 Z" fill="rgba(253,231,37,0.450)" stroke="rgba(0,0,0,0.16)" stroke-width="0.8"/>
<line x1="487.70" y1="81.00" x2="487.70" y2="116.30" class="wh"/>
<line x1="487.70" y1="140.10" x2="487.70" y2="174.00" class="wh"/>
<rect x="475.50" y="116.30" width="24.00" height="23.80" fill="rgba(253,231,37,0.720)" class="bx"/>
<line x1="475.50" y1="128.50" x2="499.50" y2="128.50" class="md"/>
<circle cx="487.70" cy="39.00" r="1.4" class="pt"/>
<circle cx="487.70" cy="46.20" r="1.4" class="pt"/>
<circle cx="487.70" cy="52.30" r="1.4" class="pt"/>
<circle cx="487.70" cy="58.20" r="1.4" class="pt"/>
<circle cx="487.70" cy="59.30" r="1.4" class="pt"/>
<circle cx="487.70" cy="60.30" r="1.4" class="pt"/>
<circle cx="487.70" cy="61.20" r="1.4" class="pt"/>
<circle cx="487.70" cy="61.80" r="1.4" class="pt"/>
<circle cx="487.70" cy="73.40" r="1.4" class="pt"/>
<circle cx="487.70" cy="79.20" r="1.4" class="pt"/>
<circle cx="487.70" cy="176.20" r="1.4" class="pt"/>
<circle cx="487.70" cy="178.80" r="1.4" class="pt"/>
<path d="M549.55,101.50 L549.51,103.25 L549.46,105.66 L549.39,108.52 L549.31,111.62 L549.22,114.75 L549.10,117.70 L548.96,120.49 L548.79,123.29 L548.60,126.11 L548.40,128.99 L548.20,131.95 L548.00,135.00 L547.80,138.23 L547.59,141.62 L547.38,145.09 L547.17,148.54 L546.98,151.88 L546.80,155.00 L546.67,157.91 L546.58,160.67 L546.51,163.32 L546.41,165.88 L546.25,168.37 L546.00,170.80 L545.61,173.15 L545.10,175.40 L544.53,177.58 L543.97,179.71 L543.47,181.84 L543.10,184.00 L542.86,186.18 L542.69,188.35 L542.59,190.51 L542.55,192.67 L542.56,194.84 L542.60,197.00 L542.70,199.21 L542.87,201.46 L543.09,203.71 L543.33,205.92 L543.57,208.03 L543.80,210.00 L544.01,211.79 L544.22,213.42 L544.43,214.96 L544.65,216.47 L544.87,217.99 L545.10,219.60 L545.34,221.23 L545.58,222.84 L545.83,224.46 L546.09,226.16 L546.34,227.99 L546.60,230.00 L546.87,232.28 L547.15,234.81 L547.43,237.46 L547.71,240.13 L547.97,242.68 L548.20,245.00 L548.41,247.08 L548.60,249.01 L548.78,250.83 L548.94,252.57 L549.08,254.28 L549.20,256.00 L549.30,257.82 L549.38,259.72 L549.44,261.59 L549.48,263.30 L549.52,264.75 L549.55,265.80 L549.65,265.80 L549.68,264.75 L549.72,263.30 L549.76,261.59 L549.82,259.72 L549.90,257.82 L550.00,256.00 L550.12,254.28 L550.26,252.57 L550.42,250.83 L550.60,249.01 L550.79,247.08 L551.00,245.00 L551.23,242.68 L551.49,240.13 L551.77,237.46 L552.05,234.81 L552.33,232.28 L552.60,230.00 L552.86,227.99 L553.11,226.16 L553.37,224.46 L553.62,222.84 L553.86,221.23 L554.10,219.60 L554.33,217.99 L554.55,216.47 L554.77,214.96 L554.98,213.42 L555.19,211.79 L555.40,210.00 L555.63,208.03 L555.87,205.92 L556.11,203.71 L556.33,201.46 L556.50,199.21 L556.60,197.00 L556.64,194.84 L556.65,192.67 L556.61,190.51 L556.51,188.35 L556.34,186.18 L556.10,184.00 L555.73,181.84 L555.23,179.71 L554.67,177.58 L554.10,175.40 L553.59,173.15 L553.20,170.80 L552.95,168.37 L552.79,165.88 L552.69,163.32 L552.62,160.67 L552.53,157.91 L552.40,155.00 L552.22,151.88 L552.03,148.54 L551.82,145.09 L551.61,141.62 L551.40,138.23 L551.20,135.00 L551.00,131.95 L550.80,128.99 L550.60,126.11 L550.41,123.29 L550.24,120.49 L550.10,117.70 L549.98,114.75 L549.89,111.62 L549.81,108.52 L549.74,105.66 L549.69,103.25 L549.65,101.50 Z" fill="rgba(68,1,84,0.450)" stroke="rgba(0,0,0,0.16)" stroke-width="0.8"/>
<line x1="549.60" y1="101.50" x2="549.60" y2="170.80" class="wh"/>
<line x1="549.60" y1="219.60" x2="549.60" y2="265.80" class="wh"/>
<rect x="537.30" y="170.80" width="24.20" height="48.80" fill="rgba(68,1,84,0.720)" class="bx"/>
<line x1="537.30" y1="197.50" x2="561.50" y2="197.50" class="md"/>
<path d="M576.05,52.20 L576.02,55.96 L575.99,61.40 L575.94,67.73 L575.89,74.13 L575.81,79.83 L575.70,84.00 L575.57,86.49 L575.42,87.91 L575.25,88.61 L575.06,88.96 L574.84,89.30 L574.60,90.00 L574.32,91.01 L574.02,92.04 L573.69,93.06 L573.34,94.07 L572.97,95.06 L572.60,96.00 L572.21,96.89 L571.79,97.74 L571.36,98.56 L570.93,99.37 L570.51,100.18 L570.10,101.00 L569.72,101.84 L569.35,102.70 L568.99,103.56 L568.63,104.40 L568.27,105.22 L567.90,106.00 L567.52,106.69 L567.13,107.29 L566.74,107.87 L566.35,108.49 L565.97,109.21 L565.60,110.10 L565.23,111.21 L564.84,112.49 L564.46,113.87 L564.11,115.29 L563.81,116.69 L563.60,118.00 L563.46,119.22 L563.36,120.41 L563.32,121.58 L563.34,122.73 L563.43,123.87 L563.60,125.00 L563.85,126.10 L564.19,127.16 L564.60,128.21 L565.06,129.28 L565.57,130.40 L566.10,131.60 L566.69,132.88 L567.34,134.21 L568.04,135.59 L568.76,137.01 L569.45,138.49 L570.10,140.00 L570.72,141.58 L571.33,143.24 L571.93,144.94 L572.49,146.66 L573.02,148.36 L573.50,150.00 L573.93,151.64 L574.33,153.30 L574.69,154.94 L575.01,156.52 L575.28,157.99 L575.50,159.30 L575.65,159.74 L575.73,159.22 L575.76,158.58 L575.77,158.69 L575.77,160.41 L575.80,164.60 L575.85,172.51 L575.90,183.72 L575.94,196.53 L575.99,209.27 L576.02,220.25 L576.05,227.80 L576.15,227.80 L576.18,220.25 L576.21,209.27 L576.26,196.53 L576.30,183.72 L576.35,172.51 L576.40,164.60 L576.43,160.41 L576.43,158.69 L576.44,158.58 L576.47,159.22 L576.55,159.74 L576.70,159.30 L576.92,157.99 L577.19,156.52 L577.51,154.94 L577.87,153.30 L578.27,151.64 L578.70,150.00 L579.18,148.36 L579.71,146.66 L580.27,144.94 L580.87,143.24 L581.48,141.58 L582.10,140.00 L582.75,138.49 L583.44,137.01 L584.16,135.59 L584.86,134.21 L585.51,132.88 L586.10,131.60 L586.63,130.40 L587.14,129.28 L587.60,128.21 L588.01,127.16 L588.35,126.10 L588.60,125.00 L588.77,123.87 L588.86,122.73 L588.88,121.58 L588.84,120.41 L588.74,119.22 L588.60,118.00 L588.39,116.69 L588.09,115.29 L587.74,113.87 L587.36,112.49 L586.97,111.21 L586.60,110.10 L586.23,109.21 L585.85,108.49 L585.46,107.87 L585.07,107.29 L584.68,106.69 L584.30,106.00 L583.93,105.22 L583.57,104.40 L583.21,103.56 L582.85,102.70 L582.48,101.84 L582.10,101.00 L581.69,100.18 L581.27,99.37 L580.84,98.56 L580.41,97.74 L579.99,96.89 L579.60,96.00 L579.23,95.06 L578.86,94.07 L578.51,93.06 L578.18,92.04 L577.88,91.01 L577.60,90.00 L577.36,89.30 L577.14,88.96 L576.95,88.61 L576.78,87.91 L576.63,86.49 L576.50,84.00 L576.39,79.83 L576.31,74.13 L576.26,67.73 L576.21,61.40 L576.18,55.96 L576.15,52.20 Z" fill="rgba(253,231,37,0.450)" stroke="rgba(0,0,0,0.16)" stroke-width="0.8"/>
<line x1="576.10" y1="86.00" x2="576.10" y2="110.20" class="wh"/>
<line x1="576.10" y1="131.70" x2="576.10" y2="160.60" class="wh"/>
<rect x="563.90" y="110.20" width="24.40" height="21.50" fill="rgba(253,231,37,0.720)" class="bx"/>
<line x1="563.90" y1="121.00" x2="588.30" y2="121.00" class="md"/>
<circle cx="576.10" cy="52.20" r="1.4" class="pt"/>
<circle cx="576.10" cy="67.00" r="1.4" class="pt"/>
<circle cx="576.10" cy="68.00" r="1.4" class="pt"/>
<circle cx="576.10" cy="69.00" r="1.4" class="pt"/>
<circle cx="576.10" cy="70.00" r="1.4" class="pt"/>
<circle cx="576.10" cy="71.10" r="1.4" class="pt"/>
<circle cx="576.10" cy="164.60" r="1.4" class="pt"/>
<circle cx="576.10" cy="184.60" r="1.4" class="pt"/>
<circle cx="576.10" cy="227.80" r="1.4" class="pt"/>
<path d="M632.80,141.50 L632.60,141.97 L632.32,142.60 L631.99,143.35 L631.63,144.19 L631.26,145.09 L630.90,146.00 L630.52,146.98 L630.10,148.05 L629.67,149.18 L629.26,150.31 L628.90,151.40 L628.60,152.40 L628.38,153.27 L628.20,154.04 L628.07,154.77 L627.99,155.51 L627.93,156.30 L627.90,157.20 L627.88,158.20 L627.87,159.27 L627.89,160.40 L627.97,161.57 L628.13,162.77 L628.40,164.00 L628.82,165.25 L629.37,166.55 L630.01,167.87 L630.67,169.23 L631.32,170.61 L631.90,172.00 L632.43,173.42 L632.97,174.86 L633.48,176.32 L633.96,177.81 L634.37,179.30 L634.70,180.80 L634.93,182.19 L635.07,183.44 L635.16,184.70 L635.20,186.12 L635.24,187.84 L635.30,190.00 L635.37,192.71 L635.43,195.87 L635.48,199.32 L635.53,202.93 L635.57,206.54 L635.60,210.00 L635.63,213.39 L635.65,216.85 L635.67,220.31 L635.68,223.70 L635.69,226.96 L635.70,230.00 L635.70,232.90 L635.70,235.72 L635.69,238.40 L635.69,240.88 L635.69,243.10 L635.70,245.00 L635.72,246.54 L635.76,247.77 L635.80,248.74 L635.84,249.50 L635.88,250.10 L635.90,250.60 L639.90,250.60 L639.92,250.10 L639.96,249.50 L640.00,248.74 L640.04,247.77 L640.08,246.54 L640.10,245.00 L640.11,243.10 L640.11,240.88 L640.11,238.40 L640.10,235.72 L640.10,232.90 L640.10,230.00 L640.11,226.96 L640.12,223.70 L640.13,220.31 L640.15,216.85 L640.17,213.39 L640.20,210.00 L640.23,206.54 L640.27,202.93 L640.32,199.32 L640.37,195.87 L640.43,192.71 L640.50,190.00 L640.56,187.84 L640.60,186.12 L640.64,184.70 L640.73,183.44 L640.87,182.19 L641.10,180.80 L641.43,179.30 L641.84,177.81 L642.32,176.32 L642.83,174.86 L643.37,173.42 L643.90,172.00 L644.48,170.61 L645.13,169.23 L645.79,167.87 L646.43,166.55 L646.98,165.25 L647.40,164.00 L647.67,162.77 L647.83,161.57 L647.91,160.40 L647.93,159.27 L647.92,158.20 L647.90,157.20 L647.87,156.30 L647.81,155.51 L647.73,154.77 L647.60,154.04 L647.42,153.27 L647.20,152.40 L646.90,151.40 L646.54,150.31 L646.12,149.18 L645.70,148.05 L645.28,146.98 L644.90,146.00 L644.54,145.09 L644.17,144.19 L643.81,143.35 L643.48,142.60 L643.20,141.97 L643.00,141.50 Z" fill="rgba(68,1,84,0.450)" stroke="rgba(0,0,0,0.16)" stroke-width="0.8"/>
<line x1="637.90" y1="141.80" x2="637.90" y2="157.20" class="wh"/>
<line x1="637.90" y1="180.90" x2="637.90" y2="206.00" class="wh"/>
<rect x="626.00" y="157.20" width="23.90" height="23.70" fill="rgba(68,1,84,0.720)" class="bx"/>
<line x1="626.00" y1="164.20" x2="649.90" y2="164.20" class="md"/>
<circle cx="637.90" cy="223.60" r="1.4" class="pt"/>
<circle cx="637.90" cy="239.90" r="1.4" class="pt"/>
<circle cx="637.90" cy="249.90" r="1.4" class="pt"/>
<path d="M664.55,53.20 L664.53,53.93 L664.49,54.92 L664.46,56.10 L664.41,57.39 L664.36,58.72 L664.30,60.00 L664.23,61.28 L664.16,62.61 L664.08,63.99 L664.00,65.36 L663.90,66.71 L663.80,68.00 L663.70,69.22 L663.60,70.38 L663.49,71.51 L663.36,72.64 L663.20,73.80 L663.00,75.00 L662.75,76.26 L662.45,77.56 L662.12,78.89 L661.78,80.21 L661.44,81.53 L661.10,82.80 L660.78,84.04 L660.46,85.25 L660.14,86.45 L659.81,87.64 L659.46,88.82 L659.10,90.00 L658.71,91.19 L658.29,92.39 L657.85,93.58 L657.41,94.75 L656.99,95.89 L656.60,97.00 L656.23,98.08 L655.86,99.13 L655.51,100.16 L655.17,101.15 L654.87,102.10 L654.60,103.00 L654.38,103.77 L654.21,104.39 L654.07,104.97 L653.93,105.61 L653.78,106.42 L653.60,107.50 L653.33,108.86 L652.99,110.43 L652.63,112.16 L652.32,114.02 L652.12,115.98 L652.10,118.00 L652.27,120.20 L652.60,122.63 L653.04,125.16 L653.54,127.65 L654.08,129.97 L654.60,132.00 L655.13,133.68 L655.69,135.11 L656.29,136.38 L656.90,137.56 L657.51,138.74 L658.10,140.00 L658.69,141.34 L659.30,142.70 L659.91,144.06 L660.51,145.41 L661.07,146.72 L661.60,148.00 L662.10,149.31 L662.60,150.67 L663.07,152.00 L663.49,153.22 L663.84,154.25 L664.10,155.00 L665.10,155.00 L665.36,154.25 L665.71,153.22 L666.13,152.00 L666.60,150.67 L667.10,149.31 L667.60,148.00 L668.13,146.72 L668.69,145.41 L669.29,144.06 L669.90,142.70 L670.51,141.34 L671.10,140.00 L671.69,138.74 L672.30,137.56 L672.91,136.38 L673.51,135.11 L674.07,133.68 L674.60,132.00 L675.12,129.97 L675.66,127.65 L676.16,125.16 L676.60,122.63 L676.93,120.20 L677.10,118.00 L677.08,115.98 L676.88,114.02 L676.57,112.16 L676.21,110.43 L675.87,108.86 L675.60,107.50 L675.42,106.42 L675.27,105.61 L675.13,104.97 L674.99,104.39 L674.82,103.77 L674.60,103.00 L674.33,102.10 L674.03,101.15 L673.69,100.16 L673.34,99.13 L672.97,98.08 L672.60,97.00 L672.21,95.89 L671.79,94.75 L671.35,93.58 L670.91,92.39 L670.49,91.19 L670.10,90.00 L669.74,88.82 L669.39,87.64 L669.06,86.45 L668.74,85.25 L668.42,84.04 L668.10,82.80 L667.76,81.53 L667.42,80.21 L667.08,78.89 L666.75,77.56 L666.45,76.26 L666.20,75.00 L666.00,73.80 L665.84,72.64 L665.71,71.51 L665.60,70.38 L665.50,69.22 L665.40,68.00 L665.30,66.71 L665.20,65.36 L665.12,63.99 L665.04,62.61 L664.97,61.28 L664.90,60.00 L664.84,58.72 L664.79,57.39 L664.74,56.10 L664.71,54.92 L664.67,53.93 L664.65,53.20 Z" fill="rgba(253,231,37,0.450)" stroke="rgba(0,0,0,0.16)" stroke-width="0.8"/>
<line x1="664.60" y1="79.60" x2="664.60" y2="107.40" class="wh"/>
<line x1="664.60" y1="132.30" x2="664.60" y2="155.00" class="wh"/>
<rect x="652.30" y="107.40" width="24.70" height="24.90" fill="rgba(253,231,37,0.720)" class="bx"/>
<line x1="652.30" y1="119.70" x2="677.00" y2="119.70" class="md"/>
<circle cx="664.60" cy="53.20" r="1.4" class="pt"/>
<text class="ttl" x="23.2" y="10.8">A) Diachronic evolution in δ13C</text>
<text class="ttl" x="345.2" y="10.8">B) Diachronic evolution in δ15N</text>
<text class="tk" x="52.50" y="304.6" text-anchor="middle">-24</text>
<text class="tk" x="117.24" y="304.6" text-anchor="middle">-22</text>
<text class="tk" x="181.98" y="304.6" text-anchor="middle">-20</text>
<text class="tk" x="246.72" y="304.6" text-anchor="middle">-18</text>
<text class="at" x="151.5" y="322.2" text-anchor="middle">δ13C (‰, V-PDB)</text>
<g transform="translate(38.0,54.80)" class="nl"><text x="0" y="0" text-anchor="end">84</text><text x="-17.18" y="0.5" text-anchor="middle" style="font-size:9.4px">=</text><text x="-27.08" y="3.7" style="font-size:6.6px">H</text><text x="-32.18" y="0">n</text></g>
<text class="lb" x="37.6" y="68.5" text-anchor="end">Chalco</text>
<g transform="translate(38.0,79.60)" class="nl"><text x="0" y="0" text-anchor="end">17</text><text x="-17.18" y="0.5" text-anchor="middle" style="font-size:9.4px">=</text><text x="-27.08" y="3.7" style="font-size:6.6px">F</text><text x="-32.18" y="0">n</text></g>
<g transform="translate(38.0,119.00)" class="nl"><text x="0" y="0" text-anchor="end">312</text><text x="-23.01" y="0.5" text-anchor="middle" style="font-size:9.4px">=</text><text x="-32.91" y="3.7" style="font-size:6.6px">H</text><text x="-38.01" y="0">n</text></g>
<text class="lb" x="37.6" y="131.5" text-anchor="end">LN</text>
<g transform="translate(38.0,142.60)" class="nl"><text x="0" y="0" text-anchor="end">74</text><text x="-17.18" y="0.5" text-anchor="middle" style="font-size:9.4px">=</text><text x="-27.08" y="3.7" style="font-size:6.6px">F</text><text x="-32.18" y="0">n</text></g>
<g transform="translate(38.0,182.90)" class="nl"><text x="0" y="0" text-anchor="end">413</text><text x="-23.01" y="0.5" text-anchor="middle" style="font-size:9.4px">=</text><text x="-32.91" y="3.7" style="font-size:6.6px">H</text><text x="-38.01" y="0">n</text></g>
<text class="lb" x="37.6" y="194.5" text-anchor="end">MN</text>
<g transform="translate(38.0,205.70)" class="nl"><text x="0" y="0" text-anchor="end">276</text><text x="-23.01" y="0.5" text-anchor="middle" style="font-size:9.4px">=</text><text x="-32.91" y="3.7" style="font-size:6.6px">F</text><text x="-38.01" y="0">n</text></g>
<g transform="translate(38.0,246.00)" class="nl"><text x="0" y="0" text-anchor="end">107</text><text x="-23.01" y="0.5" text-anchor="middle" style="font-size:9.4px">=</text><text x="-32.91" y="3.7" style="font-size:6.6px">H</text><text x="-38.01" y="0">n</text></g>
<text class="lb" x="37.6" y="257.7" text-anchor="end">EN</text>
<g transform="translate(38.0,268.30)" class="nl"><text x="0" y="0" text-anchor="end">153</text><text x="-23.01" y="0.5" text-anchor="middle" style="font-size:9.4px">=</text><text x="-32.91" y="3.7" style="font-size:6.6px">F</text><text x="-38.01" y="0">n</text></g>
<text class="tk" x="328.9" y="90.50" text-anchor="end">12</text>
<text class="tk" x="328.9" y="154.91" text-anchor="end">9</text>
<text class="tk" x="328.9" y="219.32" text-anchor="end">6</text>
<text class="tk" x="328.9" y="283.74" text-anchor="end">3</text>
<text class="at" transform="translate(312.6,184.5) rotate(-90)" text-anchor="middle">δ15N (‰, AIR)</text>
<text class="lb" x="385.80" y="292.6" text-anchor="middle">EN</text>
<text class="lb" x="474.50" y="292.6" text-anchor="middle">MN</text>
<text class="lb" x="562.60" y="292.6" text-anchor="middle">LN</text>
<text class="lb" x="651.70" y="292.6" text-anchor="middle">Chalco</text>
<g transform="translate(376.10,296.9) rotate(-90)" class="nl"><text x="0" y="0" text-anchor="end">153</text><text x="-23.61" y="0.5" text-anchor="middle" style="font-size:9.4px">=</text><text x="-33.69" y="3.7" style="font-size:6.6px">F</text><text x="-38.79" y="0">n</text></g>
<g transform="translate(402.70,296.9) rotate(-90)" class="nl"><text x="0" y="0" text-anchor="end">107</text><text x="-23.61" y="0.5" text-anchor="middle" style="font-size:9.4px">=</text><text x="-33.69" y="3.7" style="font-size:6.6px">H</text><text x="-38.79" y="0">n</text></g>
<g transform="translate(464.80,296.9) rotate(-90)" class="nl"><text x="0" y="0" text-anchor="end">276</text><text x="-23.61" y="0.5" text-anchor="middle" style="font-size:9.4px">=</text><text x="-33.69" y="3.7" style="font-size:6.6px">F</text><text x="-38.79" y="0">n</text></g>
<g transform="translate(491.40,296.9) rotate(-90)" class="nl"><text x="0" y="0" text-anchor="end">413</text><text x="-23.61" y="0.5" text-anchor="middle" style="font-size:9.4px">=</text><text x="-33.69" y="3.7" style="font-size:6.6px">H</text><text x="-38.79" y="0">n</text></g>
<g transform="translate(552.90,296.9) rotate(-90)" class="nl"><text x="0" y="0" text-anchor="end">74</text><text x="-17.78" y="0.5" text-anchor="middle" style="font-size:9.4px">=</text><text x="-27.86" y="3.7" style="font-size:6.6px">F</text><text x="-32.96" y="0">n</text></g>
<g transform="translate(579.00,296.9) rotate(-90)" class="nl"><text x="0" y="0" text-anchor="end">312</text><text x="-23.61" y="0.5" text-anchor="middle" style="font-size:9.4px">=</text><text x="-33.69" y="3.7" style="font-size:6.6px">H</text><text x="-38.79" y="0">n</text></g>
<g transform="translate(640.70,296.9) rotate(-90)" class="nl"><text x="0" y="0" text-anchor="end">17</text><text x="-17.78" y="0.5" text-anchor="middle" style="font-size:9.4px">=</text><text x="-27.86" y="3.7" style="font-size:6.6px">F</text><text x="-32.96" y="0">n</text></g>
<g transform="translate(668.60,296.9) rotate(-90)" class="nl"><text x="0" y="0" text-anchor="end">84</text><text x="-17.78" y="0.5" text-anchor="middle" style="font-size:9.4px">=</text><text x="-27.86" y="3.7" style="font-size:6.6px">H</text><text x="-32.96" y="0">n</text></g>
<rect x="251.9" y="2.3" width="75.2" height="48.6" fill="#fff" stroke="#cfcfcf" stroke-width="1"/>
<rect x="259.4" y="6.6" width="18.4" height="18.6" fill="rgba(68,1,84,0.450)"/>
<line x1="268.6" y1="7.8" x2="268.6" y2="11.5" stroke="#222" stroke-width="1"/>
<line x1="268.6" y1="21.3" x2="268.6" y2="24.2" stroke="#222" stroke-width="1"/>
<rect x="260.7" y="11.5" width="15.8" height="9.8" fill="rgba(68,1,84,0.720)" stroke="#222" stroke-width="1"/>
<line x1="260.7" y1="16.4" x2="276.5" y2="16.4" stroke="#000" stroke-width="1.1"/>
<text x="285.3" y="20.2" style="font-size:11px;fill:#1a1a1a">Fauna</text>
<rect x="259.4" y="27.1" width="18.4" height="18.6" fill="rgba(253,231,37,0.450)"/>
<line x1="268.6" y1="28.3" x2="268.6" y2="32.0" stroke="#222" stroke-width="1"/>
<line x1="268.6" y1="41.8" x2="268.6" y2="44.7" stroke="#222" stroke-width="1"/>
<rect x="260.7" y="32.0" width="15.8" height="9.8" fill="rgba(253,231,37,0.720)" stroke="#222" stroke-width="1"/>
<line x1="260.7" y1="36.9" x2="276.5" y2="36.9" stroke="#000" stroke-width="1.1"/>
<text x="285.3" y="40.7" style="font-size:11px;fill:#1a1a1a">Human</text>
</svg></body></html>
